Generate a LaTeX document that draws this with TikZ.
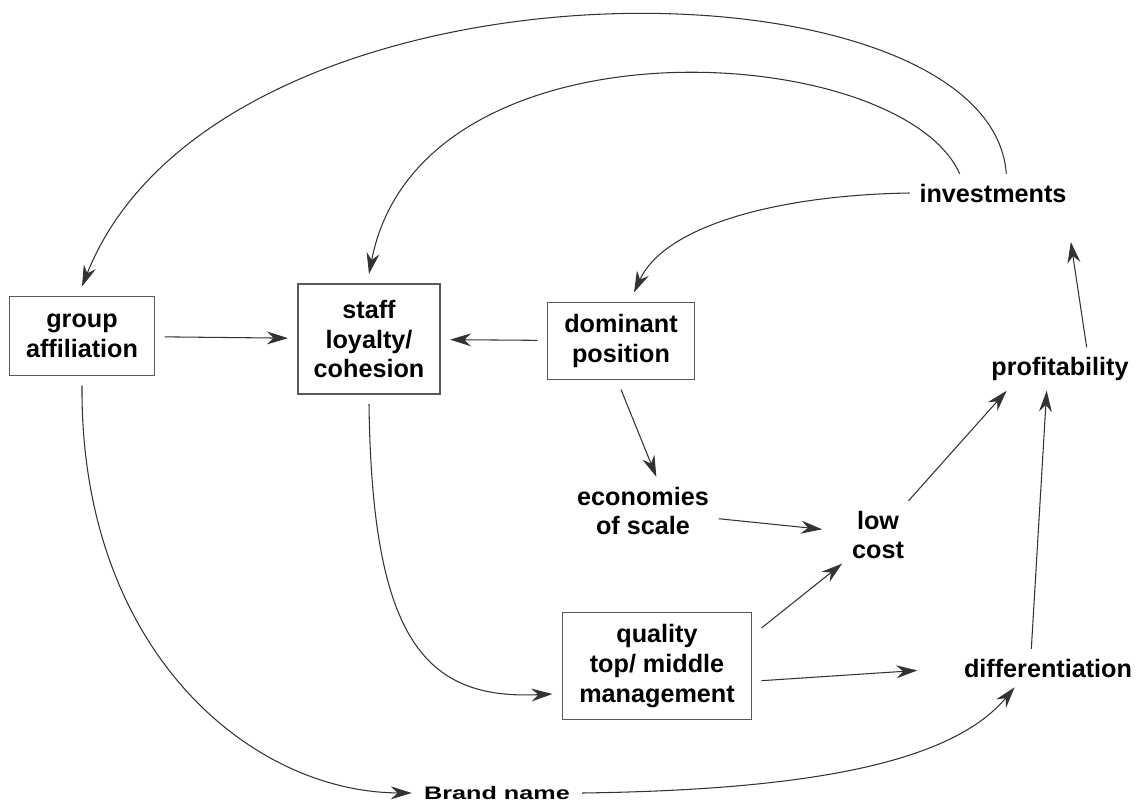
\documentclass[tikz,border=0pt]{standalone}
\usepackage{fontspec}
\setmainfont{Liberation Sans}
\usetikzlibrary{arrows.meta}

\begin{document}
\begin{tikzpicture}[x=0.03cm, y=-0.03cm, >={Stealth[length=18pt, width=11pt]},
  box/.style={draw=black!65, line width=1.1pt, align=center, outer sep=0.3cm,
    font=\bfseries\fontsize{21.5}{25.5}\selectfont},
  term/.style={align=center, inner sep=0pt, outer sep=0.3cm,
    font=\bfseries\fontsize{21.5}{25.5}\selectfont},
  link/.style={->, line width=0.9pt, draw=black!80}]
  \useasboundingbox (0,0) rectangle (1136,802);

  % Boxes
  \node[box, minimum width=4.35cm, minimum height=2.37cm] (grp) at (82,336) {group\\affiliation};
  \node[box, minimum width=4.26cm, minimum height=3.3cm] (stf) at (369,339) {staff\\loyalty/\\cohesion};
  \node[box, minimum width=4.41cm, minimum height=2.31cm] (dom) at (621,341) {dominant\\position};
  \node[box, minimum width=5.67cm, minimum height=3.21cm] (qual) at (657,666) {quality\\top/ middle\\management};

  % Plain terms
  \node[term] (inv) at (993,193) {investments};
  \node[term] (prof) at (1060,369) {profitability};
  \node[term] (eco) at (643,511) {economies\\of scale};
  \node[term] (low) at (878,535) {low\\cost};
  \node[term] (diff) at (1048,668) {differentiation};
  \node[term, inner sep=2pt] (brand) at (497,793) {\scalebox{1}[0.72]{Brand name}};

  % Straight links
  \draw[link] (grp) -- (stf);
  \draw[link] (dom) -- (stf);
  \draw[link] (dom.south) -- ([xshift=0.4cm]eco.north);
  \draw[link, shorten >=0.6cm] (eco) -- (low);
  \draw[link] (qual.20) -- (low);
  \draw[link, shorten >=1.1cm] (qual.-8) -- (diff.west);
  \draw[link] (low) -- ([xshift=-1.6cm]prof.south);
  \draw[link] ([xshift=-0.5cm]diff.north) -- ([xshift=-0.4cm]prof.south);
  \draw[link, shorten >=0.9cm] ([xshift=0.8cm]prof.north) -- ([xshift=2.2cm]inv.south);

  % Curved links from investments
  \draw[link] (inv.west) .. controls (780,195) and (665,225) .. (dom.75);
  \draw[link] ([xshift=-1cm]inv.north) .. controls (900,40) and (420,10) .. (stf.north);
  \draw[link] ([xshift=0.4cm]inv.north) .. controls (990,-50) and (220,-60) .. (grp.north);

  % Staff to management, and the brand name path
  \draw[link] (stf.south) .. controls (372,640) and (425,700) .. (qual.195);
  \draw[link] (grp.south) .. controls (80,650) and (250,792) .. (brand.west);
  \draw[link] (brand.east) .. controls (800,790) and (950,765) .. ([xshift=-1cm]diff.south);
\end{tikzpicture}
\end{document}
